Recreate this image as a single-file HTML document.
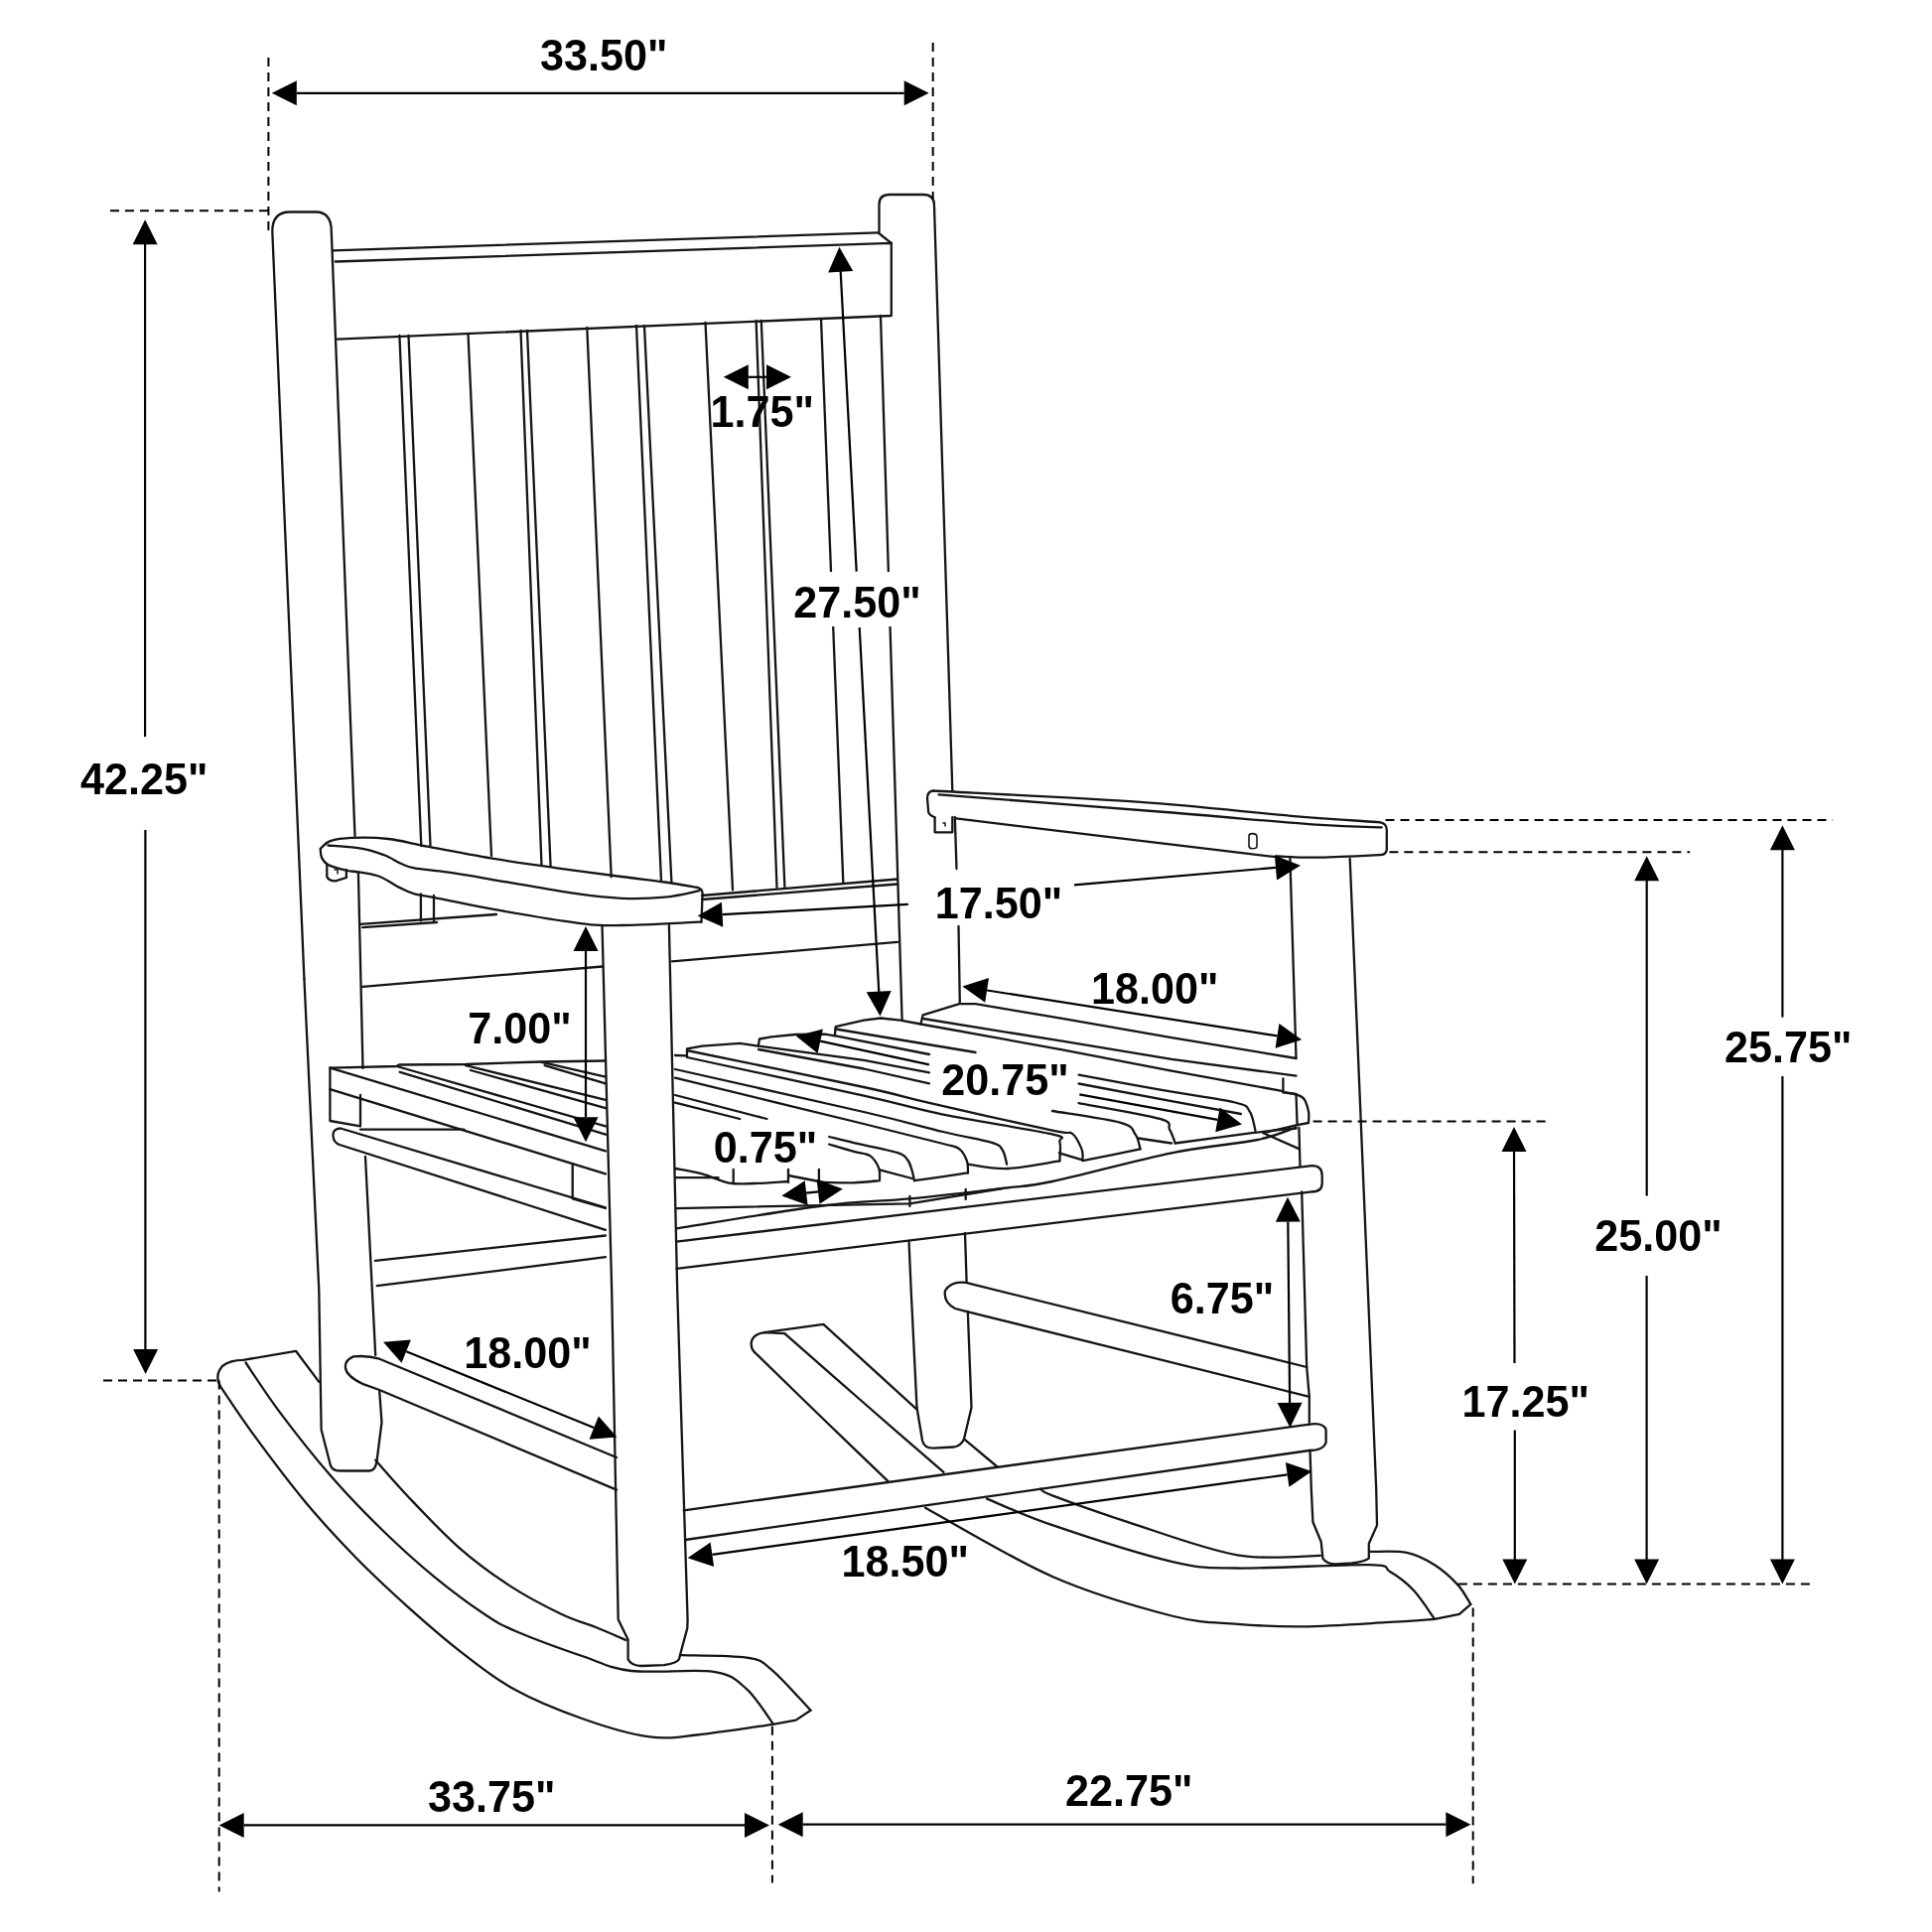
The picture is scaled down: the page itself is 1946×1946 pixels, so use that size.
<!DOCTYPE html>
<html><head><meta charset="utf-8"><style>
html,body{margin:0;padding:0;background:#fff;}
svg{display:block;will-change:transform;}
text{font-family:"Liberation Sans",sans-serif;font-weight:bold;fill:#000;}
</style></head><body>
<svg width="1946" height="1946" viewBox="0 0 1946 1946">
<rect width="1946" height="1946" fill="#fff"/>
<g fill="none" stroke="#151515" stroke-width="2.3" stroke-linejoin="round" stroke-linecap="round">
<path d="M306.4,986 L274.3,233 Q274.3,213.5 292,213.5 L318,213.5 Q333.8,213.5 333.8,233 L357.5,842"/>
<path d="M306.4,986 L321.3,1300 L323.6,1440 L332.9,1476 Q335,1481.5 342,1481.5 L372,1481.5 Q378,1481.5 379.5,1472 L384.5,1432.5 L382.2,1401"/>
<path d="M360.9,878.7 L365.5,1076"/>
<path d="M368,1165 L378.2,1365"/>
<line x1="335.0" y1="252.3" x2="884.7" y2="234.4"/>
<path d="M337.7,263.5 L897.8,244.9 L897.8,318 L340,341.6"/>
<path d="M884.7,234.4 L889,238 L897.8,244.9"/>
<line x1="402.4" y1="338.0" x2="424.3" y2="852.0"/>
<line x1="411.5" y1="338.0" x2="433.5" y2="852.0"/>
<line x1="471.5" y1="336.0" x2="495.0" y2="862.0"/>
<line x1="524.5" y1="333.0" x2="545.5" y2="871.6"/>
<line x1="531.0" y1="333.0" x2="554.6" y2="872.9"/>
<line x1="591.3" y1="330.0" x2="615.7" y2="883.3"/>
<line x1="641.0" y1="328.0" x2="666.0" y2="887.3"/>
<line x1="649.0" y1="328.0" x2="676.4" y2="888.6"/>
<line x1="710.5" y1="325.0" x2="738.0" y2="896.4"/>
<line x1="761.6" y1="323.0" x2="782.5" y2="893.8"/>
<line x1="766.8" y1="323.0" x2="790.4" y2="893.8"/>
<line x1="827.0" y1="321.0" x2="849.3" y2="888.6"/>
<path d="M885.5,234 L885.5,206 Q885.5,196 896,196 L930,196 Q941,196 941,207 L959.3,796"/>
<path d="M887,318 L908.6,1027"/>
<path d="M961.8,823 L963.5,875"/>
<path d="M965.5,933 L966.8,1010"/>
<path d="M915.5,1250 L917.7,1300 L923.5,1417.7 L929.1,1451.2 Q931,1458.7 940,1458.7 L961,1457.5 Q968,1456 971,1449.4 L978.5,1417.7 L974.8,1320.8"/>
<path d="M973.6,1291.5 L972,1242"/>
<path d="M322.8,854.8 C324.4,853.5 327.4,849.0 332.6,847.2 C337.9,845.4 344.5,844.3 354.3,843.9 C364.1,843.5 378.6,843.5 391.3,845.0 C404.0,846.5 413.0,849.3 430.4,852.6 C447.8,855.9 473.9,861.0 495.7,864.6 C517.5,868.2 539.2,871.2 560.9,874.3 C582.6,877.4 607.9,880.6 626.0,883.0 C644.1,885.4 656.9,886.7 669.6,888.5 C682.3,890.3 696.8,893.0 702.2,893.9"/>
<path d="M702.2,893.9 Q707.6,895 707.6,900 L706.5,928.7"/>
<path d="M330.4,851.5 C336.2,852.0 355.8,853.2 365.2,854.8 C374.6,856.4 380.5,858.8 387.0,861.3 C393.5,863.8 399.2,867.8 404.3,870.0 C409.4,872.2 409.4,872.8 417.4,874.3 C425.4,875.8 435.5,876.2 452.2,878.7 C468.9,881.2 495.7,886.0 517.4,889.6 C539.1,893.2 564.5,897.9 582.6,900.4 C600.7,902.9 611.5,904.2 626.0,904.8 C640.5,905.3 656.6,905.0 669.6,903.7 C682.6,902.4 698.5,898.3 704.3,897.2"/>
<path d="M322.8,854.8 C323.0,856.2 322.6,860.8 323.9,863.5 C325.2,866.2 326.4,868.9 330.4,871.1 C334.4,873.3 342.4,875.2 347.8,876.5 C353.2,877.8 357.2,877.6 363.0,878.7 C368.8,879.8 376.1,880.5 382.6,883.0 C389.1,885.5 396.4,891.0 402.2,893.9 C408.0,896.8 410.9,898.6 417.4,900.4 C423.9,902.2 428.2,902.2 441.3,904.8 C454.4,907.3 472.1,911.5 495.7,915.7 C519.2,919.9 560.9,927.1 582.6,929.8 C604.3,932.5 605.4,932.2 626.0,932.0 C646.6,931.8 693.1,929.2 706.5,928.7"/>
<path d="M329.3,871 L329.3,883 Q331,887.4 338,887.4 L348.9,884 L348.9,876"/>
<path d="M337,876 L340,876 L340,880" stroke-width="1.5"/>
<line x1="423.9" y1="900.4" x2="423.9" y2="927.6"/>
<line x1="437.0" y1="902.0" x2="437.0" y2="927.6"/>
<line x1="363.0" y1="930.9" x2="500.0" y2="921.0"/>
<line x1="365.2" y1="934.1" x2="440.0" y2="929.0"/>
<line x1="365.2" y1="993.9" x2="606.8" y2="973.5"/>
<path d="M606.5,932 L616.2,1300 L622.7,1631.3 L632.6,1651.5 L632.6,1671.3 Q636,1678 645.9,1678 L669,1677.1 Q682,1675 684,1671.3 L685.6,1664.7 L692.3,1639.9 L692.6,1631.3 L682.2,1300 L673.9,932"/>
<line x1="707.0" y1="902.0" x2="904.0" y2="885.5"/>
<line x1="707.0" y1="906.0" x2="904.0" y2="890.5"/>
<line x1="677.0" y1="968.4" x2="904.0" y2="948.8"/>
<path d="M940.3,796.5 C975.0,798.4 1088.3,803.7 1148.3,807.9 C1208.3,812.1 1260.2,818.4 1300.4,821.8 C1340.6,825.2 1374.4,827.1 1389.2,828.2"/>
<path d="M1389.2,828.2 Q1396.8,829 1396.8,836 L1396.8,856 Q1396,861.2 1389.2,861.2"/>
<path d="M940.3,796.5 Q934,797 934,804 L935.2,818 Q936,821 941,823"/>
<path d="M945.4,800.3 C983.4,803.2 1110.2,812.9 1173.6,818.0 C1237.0,823.1 1289.4,828.2 1325.8,830.7 C1362.2,833.2 1380.7,832.9 1391.7,833.3"/>
<path d="M963.1,824.4 C1012.1,830.3 1203.2,853.6 1257.3,859.9 C1311.4,866.2 1276.3,861.8 1287.7,862.4 C1299.1,863.0 1308.9,863.9 1325.8,863.7 C1342.7,863.5 1378.6,861.6 1389.2,861.2"/>
<path d="M941.6,823.1 L941.6,838.3 L959.3,838.3 L959.3,823.1"/>
<path d="M950,829 L952,829 L952,832" stroke-width="1.5"/>
<path d="M1258,842 Q1258,839.6 1261.5,839.6 Q1266,839.6 1266,843 L1266,852 Q1266,854.8 1261.5,854.8 Q1258,854.8 1258,852 Z" stroke-width="1.6"/>
<polyline points="332.4,1075.6 609.9,1159.3"/>
<polyline points="332.4,1097.1 609.9,1182.4"/>
<polyline points="399.5,1074.0 609.9,1134.4"/>
<polyline points="402.8,1079.8 609.9,1142.7"/>
<polyline points="469.0,1073.1 609.9,1107.9"/>
<polyline points="474.0,1078.0 609.9,1116.2"/>
<polyline points="545.3,1069.8 609.9,1084.7"/>
<polyline points="548.6,1073.1 609.9,1091.3"/>
<polyline points="332.4,1075.6 399.5,1074.0 402.0,1072.5 469.0,1072.0 545.0,1069.5 609.9,1068.5"/>
<polyline points="332.4,1075.6 332.4,1129.0 363.0,1134.4 363.0,1103.0"/>
<polyline points="363.0,1137.7 467.4,1137.7"/>
<path d="M609.9,1216.4 L343,1136.5 Q335,1137 335.5,1144 Q336,1151 342,1153 L609.9,1238.8"/>
<polyline points="576.7,1174.0 576.7,1207.3 609.9,1217.0"/>
<polyline points="377.9,1269.9 609.9,1244.5"/>
<polyline points="379.7,1295.2 609.9,1266.2"/>
<polyline points="680.0,1063.0 691.4,1063.4"/>
<polyline points="692.0,1065.0 692.0,1056.3 707.2,1053.6 745.2,1050.9 763.7,1053.6 765.0,1046.5 776.9,1044.4 801.0,1042.0 830.7,1041.7 840.8,1043.4 841.7,1034.1 870.0,1027.6 887.2,1025.5 906.7,1027.7 927.4,1031.5 929.6,1022.3 966.3,1011.2 982.6,1011.2 1070.0,1025.9 1180.0,1045.2 1305.5,1066.0"/>
<polyline points="929.6,1026.0 1070.0,1048.7 1180.0,1066.9 1305.5,1083.7"/>
<polyline points="927.4,1031.5 1070.0,1057.4 1180.0,1078.7 1292.4,1099.1"/>
<polyline points="1292.4,1086.5 1292.4,1100.2 1305.5,1102.0"/>
<path d="M1292.4,1100.2 C1294.6,1100.6 1302.0,1101.4 1305.5,1102.5 C1309.0,1103.6 1311.4,1104.2 1313.5,1107.0 C1315.6,1109.8 1317.2,1115.6 1318.0,1119.6 C1318.8,1123.6 1318.0,1129.1 1318.0,1131.0"/>
<polyline points="1318.0,1131.0 1306.6,1133.2 1272.5,1141.2"/>
<polyline points="841.7,1036.5 982.6,1060.0"/>
<path d="M1086.6,1082.6 C1100.5,1085.1 1143.8,1093.2 1170.0,1097.9 C1196.2,1102.6 1229.2,1106.9 1244.0,1110.5 C1258.8,1114.1 1255.4,1114.9 1258.8,1119.6 C1262.2,1124.3 1263.5,1135.7 1264.5,1138.9"/>
<polyline points="841.7,1043.4 936.0,1062.0"/>
<polyline points="1086.6,1091.5 1180.0,1109.2 1250.0,1122.0"/>
<polyline points="764.0,1053.6 870.0,1067.8 936.0,1080.4"/>
<path d="M1086.6,1111.1 C1100.2,1113.7 1153.0,1122.5 1168.2,1126.9 C1183.4,1131.3 1175.4,1133.6 1178.0,1137.7 C1180.6,1141.8 1182.8,1149.2 1183.7,1151.5"/>
<polyline points="764.0,1057.0 870.0,1076.5 936.0,1091.3"/>
<path d="M1060.0,1119.0 C1071.5,1121.0 1114.9,1126.9 1128.8,1130.8 C1142.7,1134.7 1140.3,1138.2 1143.6,1142.6 C1146.9,1147.0 1147.7,1154.9 1148.5,1157.4"/>
<path d="M694.0,1058.5 C723.3,1064.6 829.7,1086.3 870.0,1095.0 C910.3,1103.7 904.3,1103.6 936.0,1110.9 C967.7,1118.2 1036.0,1133.6 1060.0,1138.7 C1084.0,1143.8 1074.8,1138.5 1079.7,1141.6 C1084.6,1144.7 1087.7,1153.1 1089.5,1157.4 C1091.3,1161.7 1090.3,1165.6 1090.5,1167.2"/>
<path d="M692.0,1065.0 C721.7,1071.5 827.0,1094.1 870.0,1103.7 C913.0,1113.3 918.5,1116.2 950.0,1122.6 C981.5,1129.0 1039.1,1137.6 1058.7,1142.2 C1078.3,1146.8 1066.0,1145.5 1067.4,1150.0 C1068.9,1154.5 1067.4,1166.1 1067.4,1169.3"/>
<path d="M680.0,1077.0 C711.7,1084.2 825.0,1109.5 870.0,1120.0 C915.0,1130.5 928.5,1134.8 950.0,1140.0 C971.5,1145.2 988.9,1147.8 998.9,1150.9 C1008.9,1154.0 1007.3,1154.9 1009.8,1158.5 C1012.3,1162.1 1013.4,1170.2 1014.1,1172.6"/>
<path d="M680.0,1085.7 C711.7,1093.4 825.0,1121.0 870.0,1132.0 C915.0,1143.0 934.0,1147.8 950.0,1152.0 C966.0,1156.2 962.3,1154.5 966.3,1157.4 C970.3,1160.3 972.4,1165.3 973.9,1169.3 C975.4,1173.3 974.8,1179.3 975.0,1181.3"/>
<polyline points="680.0,1103.0 772.4,1127.0"/>
<path d="M835.2,1145.0 C839.3,1146.0 848.6,1148.4 860.0,1151.1 C871.4,1153.8 894.5,1158.0 903.5,1160.9 C912.5,1163.8 911.8,1165.4 914.3,1168.5 C916.8,1171.6 917.6,1175.9 918.7,1179.3 C919.8,1182.7 920.5,1187.5 920.9,1189.1"/>
<polyline points="680.0,1110.7 745.2,1127.0"/>
<path d="M835.2,1152.6 C839.3,1153.8 853.1,1157.9 860.0,1159.8 C866.9,1161.7 872.1,1161.4 876.3,1164.1 C880.5,1166.8 883.4,1172.3 885.0,1176.1 C886.6,1179.9 885.9,1185.2 886.1,1187.0"/>
<path d="M680.0,1177.0 C684.5,1177.9 698.2,1180.0 707.2,1182.4 C716.2,1184.8 725.5,1190.0 734.3,1191.6 C743.1,1193.2 750.0,1192.3 760.0,1192.0 C770.0,1191.7 788.3,1190.3 794.0,1190.0"/>
<polyline points="680.0,1186.2 723.5,1186.2"/>
<line x1="738.7" y1="1178.0" x2="738.7" y2="1191.0"/>
<line x1="794.0" y1="1178.0" x2="794.0" y2="1191.0"/>
<line x1="824.9" y1="1178.0" x2="824.9" y2="1191.0"/>
<polyline points="794.0,1184.0 830.0,1191.0"/>
<path d="M830.0,1191.0 C835.0,1191.0 850.6,1191.6 860.0,1191.3 C869.4,1191.0 881.8,1189.5 886.1,1189.1"/>
<polyline points="886.1,1178.3 918.7,1187.0"/>
<path d="M920.9,1189.1 C927.4,1188.2 951.0,1185.0 960.0,1183.7 C969.0,1182.4 972.5,1181.7 975.0,1181.3"/>
<path d="M975.0,1172.6 C981.5,1173.3 998.7,1177.5 1014.1,1177.0 C1029.5,1176.5 1058.5,1170.6 1067.4,1169.3"/>
<polyline points="1066.9,1161.3 1089.5,1168.2"/>
<path d="M1090.5,1169.2 C1100.2,1167.2 1138.8,1159.4 1148.5,1157.4"/>
<polyline points="1146.5,1146.5 1180.0,1151.5"/>
<path d="M1183.7,1151.5 C1196.6,1149.8 1240.7,1143.7 1261.0,1141.2 C1281.3,1138.7 1298.1,1137.4 1305.5,1136.6"/>
<polyline points="1272.5,1141.2 1308.9,1157.4"/>
<path d="M681.4,1237.4 C705.9,1233.6 789.2,1219.5 828.4,1214.5 C867.6,1209.5 886.1,1210.3 916.4,1207.4 C946.7,1204.5 986.1,1199.8 1010.0,1196.9 C1033.9,1194.0 1031.7,1195.9 1060.0,1190.0 C1088.3,1184.1 1145.5,1168.3 1180.0,1161.3 C1214.5,1154.3 1245.9,1152.3 1266.8,1148.0 C1287.7,1143.7 1299.0,1137.6 1305.5,1135.5"/>
<polyline points="681.4,1217.1 916.4,1212.3 1010.0,1197.0"/>
<polyline points="681.4,1250.6 1321.4,1174.2"/>
<polyline points="681.4,1277.8 1321.4,1200.4"/>
<path d="M1321.4,1174.2 Q1331.7,1174 1331.7,1184 L1331.7,1192 Q1331.7,1200.4 1321.4,1200.4"/>
<line x1="916.4" y1="1205.0" x2="916.4" y2="1215.0"/>
<line x1="972.7" y1="1198.0" x2="972.7" y2="1208.0"/>
<path d="M1299.4,865 L1305.5,1066"/>
<path d="M1305.5,1102.5 L1306.6,1133"/>
<path d="M1308.4,1136 L1309.5,1174.2"/>
<path d="M1311.2,1200.4 L1316.2,1377 L1318.8,1406.8 L1318.8,1432.7"/>
<path d="M1319.5,1461 L1320.8,1500 L1322.4,1533 L1330.7,1553 L1332.4,1569.6 Q1336,1575.4 1345.6,1575.4 L1362,1574.5 Q1374,1573 1378.8,1569.6 L1378.8,1554.7 L1387,1536.4 L1386.2,1500 L1359.7,865"/>
<path d="M621,1468 L382.2,1368.7 Q370,1365 356,1366.4 Q347,1370 348,1378 Q349,1386 365.1,1393.8 L382.2,1400 L621,1500.6"/>
<polyline points="688.7,1521.3 1319.0,1434.6"/>
<polyline points="690.0,1551.0 1319.0,1461.0"/>
<path d="M1319,1434.6 Q1333,1432.7 1335.6,1440 L1335.6,1453 Q1333,1461 1319,1461"/>
<path d="M1316.2,1377 L972.9,1291.9 Q958,1290 952,1300 Q950,1312 962,1318 L972.9,1320.8 L1318.8,1406.8"/>
<path d="M221.6,1395.8 C227.2,1404.0 241.1,1425.5 255.3,1444.9 C269.5,1464.3 289.8,1491.5 307.0,1512.2 C324.2,1532.9 341.5,1551.5 358.8,1569.2 C376.1,1586.9 393.4,1602.8 410.6,1618.3 C427.9,1633.8 444.6,1648.5 462.3,1662.3 C480.0,1676.1 496.3,1689.5 517.0,1701.0 C537.7,1712.5 563.7,1723.0 586.3,1731.0 C608.9,1739.0 633.2,1746.5 652.5,1749.2 C671.8,1752.0 681.2,1749.6 702.2,1747.5 C723.2,1745.4 765.7,1738.6 778.4,1736.8"/>
<path d="M221.6,1395.8 Q216,1385 224,1376 Q232,1369.9 244.9,1369.9 L298,1360.8 L321.3,1391.9"/>
<path d="M247.5,1372.5 C253.1,1380.7 267.0,1402.6 281.2,1421.6 C295.4,1440.6 315.6,1466.4 332.9,1486.3 C350.1,1506.2 367.4,1523.9 384.7,1540.7 C401.9,1557.5 419.1,1573.1 436.4,1587.3 C453.6,1601.5 474.3,1616.7 488.2,1626.0 C502.1,1635.3 503.6,1636.2 520.0,1643.2 C536.4,1650.2 567.0,1661.4 586.3,1668.0 C605.6,1674.6 613.9,1680.4 636.0,1683.0 C658.1,1685.6 699.5,1680.8 718.8,1683.8 C738.1,1686.8 742.0,1692.5 751.9,1701.2 C761.8,1709.9 774.0,1730.1 778.4,1735.9"/>
<path d="M378.2,1470.8 C383.6,1476.8 396.6,1492.3 410.6,1507.0 C424.6,1521.7 445.1,1543.7 462.3,1558.8 C479.5,1573.9 496.8,1586.4 514.0,1597.6 C531.2,1608.8 551.5,1619.1 565.8,1626.0 C580.1,1632.9 589.2,1634.7 600.0,1639.0 C610.8,1643.3 625.4,1649.8 630.5,1652.0"/>
<path d="M685.6,1667.2 C696.6,1667.6 736.7,1667.4 751.9,1669.7 C767.1,1672.0 765.9,1672.5 776.7,1681.3 C787.5,1690.1 809.9,1715.8 816.5,1722.7"/>
<polyline points="816.5,1722.7 801.6,1732.6 778.4,1736.8"/>
<path d="M769.8,1342.2 L829.4,1333.8 L923.5,1419.6"/>
<path d="M790.3,1343.2 L769.8,1342.2 Q758,1344 756.8,1352 Q756,1358 760,1362"/>
<path d="M790.3,1343.2 C803.6,1354.8 843.3,1389.7 870.0,1413.0 C896.7,1436.3 937.1,1471.2 950.5,1482.9"/>
<path d="M994.0,1509.6 C1005.0,1514.0 1029.0,1525.7 1060.0,1536.2 C1091.0,1546.8 1149.0,1565.7 1180.0,1572.9 C1211.0,1580.1 1213.2,1579.0 1246.3,1579.5 C1279.4,1580.0 1353.2,1575.6 1378.8,1576.2 C1404.4,1576.8 1392.5,1578.7 1400.0,1583.0 C1407.5,1587.3 1416.5,1594.0 1424.0,1602.0 C1431.5,1610.0 1441.5,1626.0 1445.0,1630.8"/>
<path d="M760.0,1362.0 C771.7,1373.3 807.6,1408.3 830.0,1430.0 C852.4,1451.7 883.8,1481.8 894.6,1492.2"/>
<path d="M932.0,1518.7 C953.3,1530.2 1018.7,1569.9 1060.0,1588.0 C1101.3,1606.1 1149.0,1619.5 1180.0,1627.5 C1211.0,1635.5 1224.2,1634.0 1246.3,1635.8 C1268.4,1637.6 1287.7,1638.6 1312.5,1638.3 C1337.3,1638.0 1373.2,1635.5 1395.3,1634.2 C1417.4,1633.0 1436.7,1631.4 1445.0,1630.8"/>
<polyline points="971.0,1449.4 1004.6,1477.5"/>
<path d="M1048.0,1499.5 C1050.0,1500.7 1045.1,1500.7 1060.0,1506.4 C1074.9,1512.1 1106.5,1523.6 1137.6,1533.6 C1168.6,1543.6 1214.2,1560.8 1246.3,1566.3 C1278.4,1571.8 1316.0,1566.7 1330.0,1566.8"/>
<path d="M1380.4,1562.9 C1386.5,1563.1 1406.1,1561.6 1416.9,1563.8 C1427.7,1566.0 1436.5,1570.8 1445.0,1576.2 C1453.5,1581.6 1462.1,1589.5 1468.2,1596.1 C1474.3,1602.7 1479.2,1612.6 1481.4,1615.9"/>
<polyline points="1481.4,1615.9 1469.9,1625.9 1445.0,1630.8"/>
</g>
<line x1="270.4" y1="58.0" x2="270.4" y2="234.0" stroke="#000" stroke-width="2.0" stroke-dasharray="9 6"/>
<line x1="939.7" y1="43.0" x2="939.7" y2="200.0" stroke="#000" stroke-width="2.0" stroke-dasharray="9 6"/>
<polygon points="273.8,93.8 298.8,81.3 298.8,106.3" fill="#000"/>
<polygon points="935.7,93.8 910.7,106.3 910.7,81.3" fill="#000"/>
<line x1="298.8" y1="93.8" x2="910.7" y2="93.8" stroke="#000" stroke-width="2.2"/>
<text transform="translate(544.0,71.0) scale(0.97,1)" font-size="44.5">33.50"</text>
<line x1="111.0" y1="212.2" x2="270.0" y2="212.2" stroke="#000" stroke-width="2.0" stroke-dasharray="9 6"/>
<line x1="104.0" y1="1390.6" x2="220.3" y2="1390.6" stroke="#000" stroke-width="2.0" stroke-dasharray="9 6"/>
<polygon points="146.1,221.3 158.6,246.3 133.6,246.3" fill="#000"/>
<line x1="146.1" y1="240.0" x2="146.1" y2="742.0" stroke="#000" stroke-width="2.2"/>
<polygon points="146.6,1384.1 134.1,1359.1 159.1,1359.1" fill="#000"/>
<line x1="146.4" y1="836.0" x2="146.4" y2="1366.0" stroke="#000" stroke-width="2.2"/>
<text transform="translate(81.0,799.8) scale(0.97,1)" font-size="44.5">42.25"</text>
<polygon points="728.8,379.8 753.8,367.3 753.8,392.3" fill="#000"/>
<polygon points="797.0,379.8 772.0,392.3 772.0,367.3" fill="#000"/>
<line x1="753.8" y1="379.8" x2="772.0" y2="379.8" stroke="#000" stroke-width="2.2"/>
<text transform="translate(715.5,429.8) scale(0.97,1)" font-size="44.5">1.75"</text>
<polygon points="845.4,248.8 859.2,273.1 834.2,274.4" fill="#000"/>
<polygon points="886.5,1023.5 872.7,999.2 897.7,997.9" fill="#000"/>
<line x1="846.6" y1="272.0" x2="862.7" y2="575.6" stroke="#000" stroke-width="2.2"/>
<line x1="865.7" y1="632.0" x2="885.3" y2="1000.0" stroke="#000" stroke-width="2.2"/>
<rect x="797" y="576" width="134" height="55" fill="#fff"/>
<text transform="translate(799.3,621.7) scale(0.97,1)" font-size="44.5">27.50"</text>
<polygon points="702.6,922.6 726.9,908.7 728.3,933.7" fill="#000"/>
<line x1="727.6" y1="921.2" x2="914.8" y2="910.8" stroke="#000" stroke-width="2.2"/>
<polygon points="1309.9,871.8 1286.1,886.4 1283.9,861.5" fill="#000"/>
<line x1="1082.0" y1="891.4" x2="1285.0" y2="873.9" stroke="#000" stroke-width="2.2"/>
<text transform="translate(941.7,924.5) scale(0.97,1)" font-size="44.5">17.50"</text>
<polygon points="969.4,993.6 996.0,985.1 992.2,1009.8" fill="#000"/>
<polygon points="1311.2,1047.3 1284.6,1055.8 1288.4,1031.1" fill="#000"/>
<line x1="994.1" y1="997.5" x2="1286.5" y2="1043.4" stroke="#000" stroke-width="2.2"/>
<text transform="translate(1098.9,1010.9) scale(0.97,1)" font-size="44.5">18.00"</text>
<polygon points="590.0,933.0 602.5,958.0 577.5,958.0" fill="#000"/>
<polygon points="590.0,1150.3 577.5,1125.3 602.5,1125.3" fill="#000"/>
<line x1="590.0" y1="958.0" x2="590.0" y2="1125.3" stroke="#000" stroke-width="2.2"/>
<text transform="translate(471.2,1050.8) scale(0.97,1)" font-size="44.5">7.00"</text>
<polygon points="801.8,1043.4 828.9,1036.5 823.6,1060.9" fill="#000"/>
<line x1="826.2" y1="1048.7" x2="935.9" y2="1072.4" stroke="#000" stroke-width="2.2"/>
<polygon points="1251.0,1132.4 1224.2,1140.2 1228.7,1115.6" fill="#000"/>
<line x1="1087.3" y1="1102.3" x2="1226.4" y2="1127.9" stroke="#000" stroke-width="2.2"/>
<text transform="translate(948.3,1102.6) scale(0.97,1)" font-size="44.5">20.75"</text>
<polygon points="787.3,1204.6 810.7,1189.3 813.6,1214.1" fill="#000"/>
<polygon points="848.9,1197.4 825.5,1212.7 822.6,1187.9" fill="#000"/>
<line x1="812.1" y1="1201.7" x2="824.1" y2="1200.3" stroke="#000" stroke-width="2.2"/>
<text transform="translate(718.8,1170.5) scale(0.97,1)" font-size="44.5">0.75"</text>
<line x1="1395.5" y1="826.1" x2="1845.8" y2="826.1" stroke="#000" stroke-width="2.0" stroke-dasharray="9 6"/>
<line x1="1399.4" y1="858.2" x2="1702.2" y2="858.2" stroke="#000" stroke-width="2.0" stroke-dasharray="9 6"/>
<line x1="1322.6" y1="1129.4" x2="1562.5" y2="1129.4" stroke="#000" stroke-width="2.0" stroke-dasharray="9 6"/>
<line x1="1468.9" y1="1595.4" x2="1825.7" y2="1595.4" stroke="#000" stroke-width="2.0" stroke-dasharray="9 6"/>
<polygon points="1795.4,831.2 1807.9,856.2 1782.9,856.2" fill="#000"/>
<line x1="1795.4" y1="850.0" x2="1795.4" y2="1024.6" stroke="#000" stroke-width="2.2"/>
<polygon points="1795.4,1595.4 1782.9,1570.4 1807.9,1570.4" fill="#000"/>
<line x1="1795.4" y1="1084.1" x2="1795.4" y2="1575.0" stroke="#000" stroke-width="2.2"/>
<text transform="translate(1736.9,1070.2) scale(0.97,1)" font-size="44.5">25.75"</text>
<polygon points="1658.7,862.3 1671.2,887.3 1646.2,887.3" fill="#000"/>
<line x1="1658.7" y1="880.0" x2="1658.7" y2="1204.4" stroke="#000" stroke-width="2.2"/>
<polygon points="1658.6,1595.4 1646.1,1570.4 1671.1,1570.4" fill="#000"/>
<line x1="1658.6" y1="1285.0" x2="1658.6" y2="1575.0" stroke="#000" stroke-width="2.2"/>
<text transform="translate(1606.2,1260.3) scale(0.97,1)" font-size="44.5">25.00"</text>
<polygon points="1525.0,1135.0 1537.5,1160.0 1512.5,1160.0" fill="#000"/>
<line x1="1525.0" y1="1150.0" x2="1525.5" y2="1373.0" stroke="#000" stroke-width="2.2"/>
<polygon points="1525.8,1595.4 1513.3,1570.4 1538.3,1570.4" fill="#000"/>
<line x1="1525.8" y1="1440.5" x2="1525.8" y2="1575.0" stroke="#000" stroke-width="2.2"/>
<text transform="translate(1472.5,1426.8) scale(0.97,1)" font-size="44.5">17.25"</text>
<polygon points="1297.0,1205.7 1309.8,1230.6 1284.8,1230.8" fill="#000"/>
<polygon points="1299.4,1437.9 1286.6,1413.0 1311.6,1412.8" fill="#000"/>
<line x1="1297.3" y1="1230.7" x2="1299.1" y2="1412.9" stroke="#000" stroke-width="2.2"/>
<text transform="translate(1178.8,1323.0) scale(0.97,1)" font-size="44.5">6.75"</text>
<polygon points="386.0,1351.8 413.9,1349.6 404.5,1372.8" fill="#000"/>
<polygon points="621.4,1447.5 593.5,1449.7 602.9,1426.5" fill="#000"/>
<line x1="409.2" y1="1361.2" x2="598.2" y2="1438.1" stroke="#000" stroke-width="2.2"/>
<text transform="translate(467.3,1377.9) scale(0.97,1)" font-size="44.5">18.00"</text>
<polygon points="692.6,1569.2 715.6,1553.4 719.1,1578.1" fill="#000"/>
<polygon points="1321.4,1481.9 1298.4,1497.7 1294.9,1473.0" fill="#000"/>
<line x1="717.4" y1="1565.8" x2="1296.6" y2="1485.3" stroke="#000" stroke-width="2.2"/>
<text transform="translate(847.5,1587.6) scale(0.97,1)" font-size="44.5">18.50"</text>
<line x1="220.7" y1="1390.6" x2="220.7" y2="1905.4" stroke="#000" stroke-width="2.0" stroke-dasharray="9 6"/>
<line x1="777.9" y1="1738.8" x2="777.9" y2="1896.4" stroke="#000" stroke-width="2.0" stroke-dasharray="9 6"/>
<line x1="1483.7" y1="1619.5" x2="1483.7" y2="1897.3" stroke="#000" stroke-width="2.0" stroke-dasharray="9 6"/>
<polygon points="220.7,1838.4 245.7,1825.9 245.7,1850.9" fill="#000"/>
<polygon points="775.0,1838.4 750.0,1850.9 750.0,1825.9" fill="#000"/>
<line x1="245.7" y1="1838.4" x2="750.0" y2="1838.4" stroke="#000" stroke-width="2.2"/>
<polygon points="783.7,1837.7 808.7,1825.2 808.7,1850.2" fill="#000"/>
<polygon points="1481.4,1837.7 1456.4,1850.2 1456.4,1825.2" fill="#000"/>
<line x1="808.7" y1="1837.7" x2="1456.4" y2="1837.7" stroke="#000" stroke-width="2.2"/>
<text transform="translate(431.1,1824.9) scale(0.97,1)" font-size="44.5">33.75"</text>
<text transform="translate(1072.9,1819.3) scale(0.97,1)" font-size="44.5">22.75"</text>
</svg>
</body></html>
